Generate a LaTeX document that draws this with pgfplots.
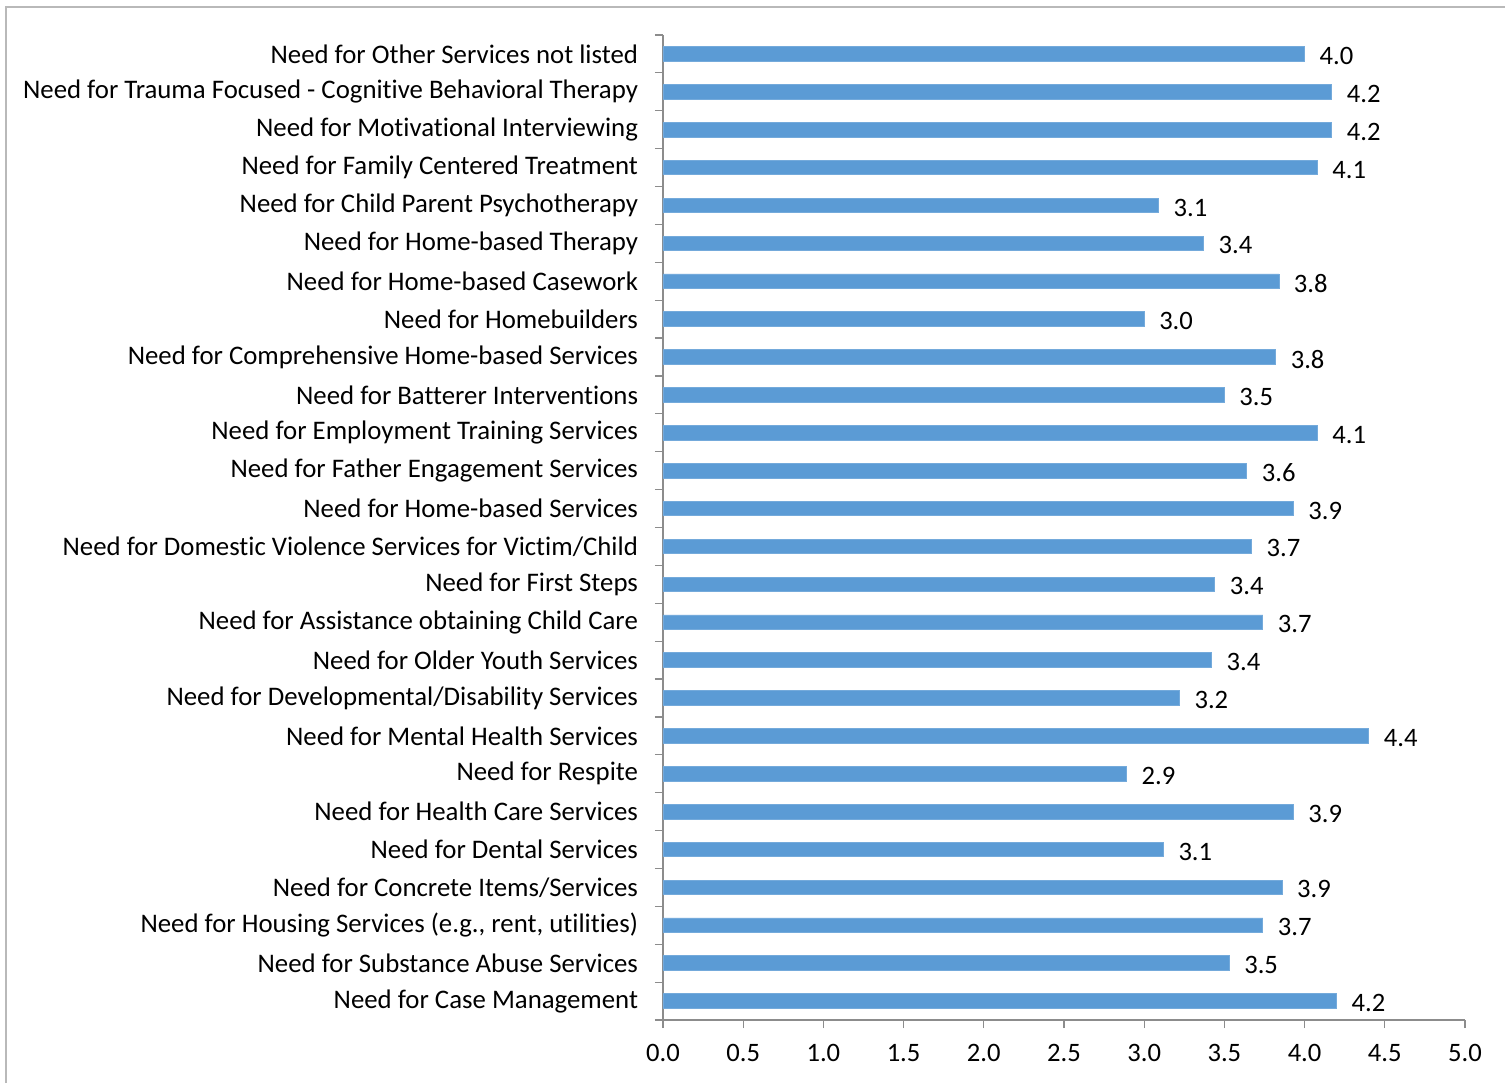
\documentclass[border=0pt]{standalone}
\usepackage{pgfplots}
\pgfplotsset{compat=1.18}
\usepackage{pgfplotstable}
\usepackage{fontspec}
\setmainfont{Carlito}[Ligatures={NoCommon}]
\definecolor{barblue}{HTML}{5B9BD5}
\definecolor{axgray}{HTML}{8C8C8C}
\pgfplotstableread{
y val
0 4.20
1 3.53
2 3.74
3 3.86
4 3.12
5 3.93
6 2.89
7 4.40
8 3.22
9 3.42
10 3.74
11 3.44
12 3.67
13 3.93
14 3.64
15 4.08
16 3.50
17 3.82
18 3.00
19 3.84
20 3.37
21 3.09
22 4.08
23 4.17
24 4.17
25 4.00
}\datatable
\begin{document}
\begin{tikzpicture}
\useasboundingbox (0,0) rectangle (752.5pt,541.5pt);
\draw[gray!55, line width=1pt] (3pt,0) -- (3pt,538pt) -- (752.5pt,538pt);
\begin{axis}[
  at={(331.5pt,31.5pt)}, anchor=south west,
  scale only axis, width=401pt, height=492.5pt,
  xbar, bar width=7.3pt, bar shift=0pt,
  xmin=0, xmax=5, ymin=-0.5, ymax=25.5,
  axis x line*=bottom, axis y line*=left,
  axis line style={axgray, line width=0.6pt},
  xtick={0,0.5,1,1.5,2,2.5,3,3.5,4,4.5,5},
  tick align=outside,
  major tick length=4pt,
  x tick style={axgray, line width=0.6pt},
  ytick={0,...,25},
  major y tick style={draw=none},
  minor ytick={-0.5,0.5,...,25.5},
  minor y tick style={axgray, line width=0.6pt},
  minor tick length=4pt,
  /pgf/number format/assume math mode=true,
  xticklabel style={font=\fontsize{13.3}{15}\selectfont, /pgf/number format/.cd, fixed, fixed zerofill, precision=1},
  xticklabel shift=4.5pt,
  yticklabel style={font=\fontsize{13.4}{15}\selectfont},
  yticklabel shift=5pt,
  yticklabels={
    {Need for Case Management},
    {Need for Substance Abuse Services},
    {Need for Housing Services (e.g., rent, utilities)},
    {Need for Concrete Items/Services},
    {Need for Dental Services},
    {Need for Health Care Services},
    {Need for Respite},
    {Need for Mental Health Services},
    {Need for Developmental/Disability Services},
    {Need for Older Youth Services},
    {Need for Assistance obtaining Child Care},
    {Need for First Steps},
    {Need for Domestic Violence Services for Victim/Child},
    {Need for Home-based Services},
    {Need for Father Engagement Services},
    {Need for Employment Training Services},
    {Need for Batterer Interventions},
    {Need for Comprehensive Home-based Services},
    {Need for Homebuilders},
    {Need for Home-based Casework},
    {Need for Home-based Therapy},
    {Need for Child Parent Psychotherapy},
    {Need for Family Centered Treatment},
    {Need for Motivational Interviewing},
    {Need for Trauma Focused - Cognitive Behavioral Therapy},
    {Need for Other Services not listed}
  },
  nodes near coords,
  point meta=x,
  nodes near coords style={font=\fontsize{13.3}{15}\selectfont, black, xshift=4pt, yshift=-1pt,
    /pgf/number format/.cd, fixed, fixed zerofill, precision=1},
  clip=false,
]
\addplot[fill=barblue, draw=barblue!85!white] table[x=val, y=y] {\datatable};
\end{axis}
\end{tikzpicture}
\end{document}
